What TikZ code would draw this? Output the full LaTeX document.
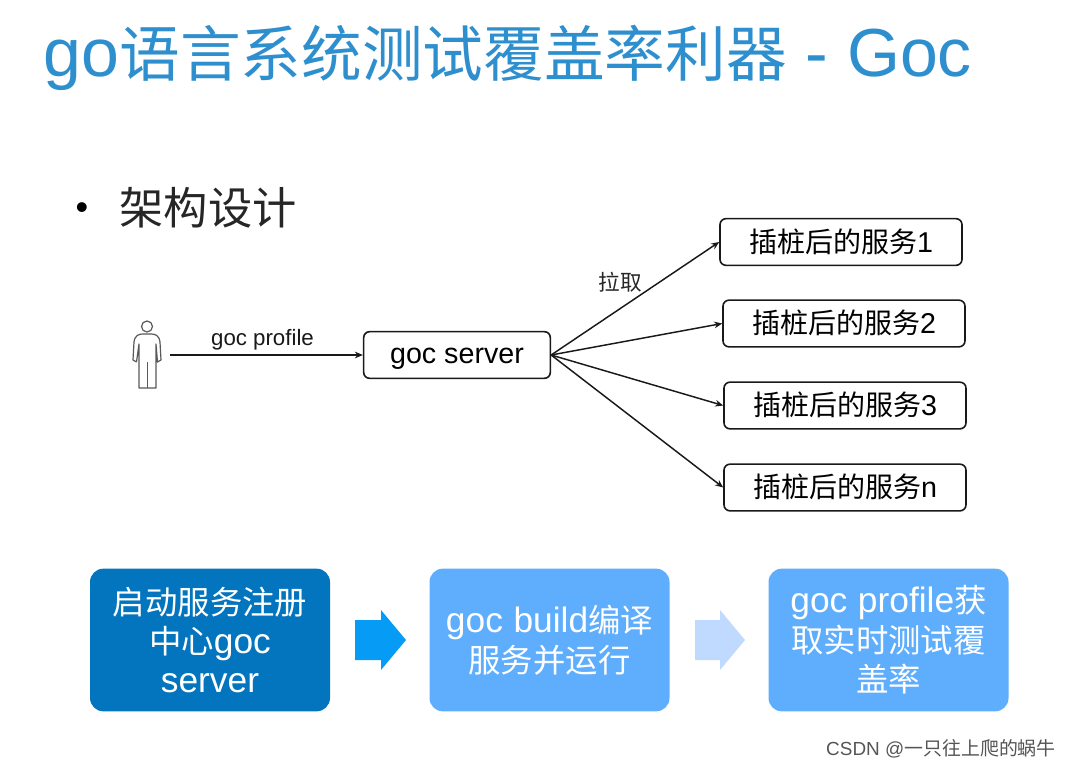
\documentclass[tikz,border=0pt]{standalone}
\usepackage{fontspec}
\setmainfont{Liberation Sans}
\newfontfamily\cjk{Noto Sans CJK SC}
\newcommand{\cj}[2]{{\cjk\fontsize{#1}{#1}\selectfont #2}}
\definecolor{titleblue}{HTML}{2E8FCF}
\definecolor{darkbox}{HTML}{0375BE}
\definecolor{lightbox}{HTML}{5FADFD}
\definecolor{arrowa}{HTML}{069CF5}
\definecolor{arrowb}{HTML}{BFDAFE}
\definecolor{wm}{HTML}{555555}
\usetikzlibrary{arrows.meta}
\tikzset{
  svc/.style={draw=black!90,line width=1.2pt,rounded corners=4.5pt,inner sep=0pt,anchor=center,minimum width=181.5pt,minimum height=35pt,text height=17.5pt,text depth=2.5pt,font=\fontsize{21.5}{23}\selectfont},
  conn/.style={draw=black!90,line width=1.1pt,-{Stealth[length=6pt,width=5pt]}},
  flow/.style={rounded corners=10pt,inner sep=0pt,text width=172pt,align=center,text=white,minimum width=180pt,minimum height=107pt,font=\fontsize{26.5}{29.6}\selectfont},
  lbl/.style={inner sep=0pt,anchor=center}
}
\begin{document}
\begin{tikzpicture}[x=0.75pt,y=-0.75pt]
\useasboundingbox[fill=white] (0,0) rectangle (1072,768);
% title
\node[lbl,text=titleblue,font=\fontsize{51}{54}\selectfont] (title) at (508,58) {go\cj{45.5}{语言系统测试覆盖率利器} - Goc};
% bullet
\node[lbl] (bul) at (82,211) {\fontsize{27}{30}\selectfont •};
\node[lbl,text=black!85] (arch) at (208,208) {\cj{33.2}{架构设计}};
% person
\draw[draw=black!65,line width=0.9pt] (147,326.5) circle (5.5);
\draw[draw=black!65,line width=0.9pt,line join=round] (136.5,362) -- (133,360) -- (134,342) .. controls (135,335) and (139,334) .. (143,334) -- (151,334) .. controls (155,334) and (159,335) .. (160,342) -- (161,360) -- (157.5,362) -- (156,344) -- (156,388) -- (139,388) -- (139,344) -- (136.5,362);
\draw[draw=black!65,line width=0.9pt] (147.5,362) -- (147.5,388);
\coordinate (pers) at (170,355);
% nodes
\node[svc,minimum width=140pt,font=\fontsize{21.5}{24}\selectfont,text height=16.5pt,text depth=3.5pt] (srv) at (457,355) {goc server};
\node[svc] (s1) at (841,242) {\cj{21}{插桩后的服务}1};
\node[svc] (s2) at (844,323.5) {\cj{21}{插桩后的服务}2};
\node[svc] (s3) at (845,405.5) {\cj{21}{插桩后的服务}3};
\node[svc] (sn) at (845,487.5) {\cj{21}{插桩后的服务}n};
\draw[conn] (pers) -- (srv.west);
\node[lbl,text=black!90,font=\fontsize{16.7}{19}\selectfont] (lp) at (262.5,339.5) {goc profile};
\draw[conn] (srv.east) -- (s1.west);
\draw[conn] (srv.east) -- (s2.west);
\draw[conn] (srv.east) -- (s3.west);
\draw[conn] (srv.east) -- (sn.west);
\node[lbl,text=black!85] (la) at (620.5,282) {\cj{16.2}{拉取}};
% flow boxes
\node[flow,fill=darkbox] (b1) at (210,640) {\cj{24.3}{启动服务注册}\\\cj{24.3}{中心}goc\\server};
\node[flow,fill=lightbox] (b2) at (549.5,640) {goc\hspace{.3em}build\cj{24.3}{编译}\\\cj{24.3}{服务并运行}};
\node[flow,fill=lightbox] (b3) at (888.5,640) {goc\hspace{.3em}profile\cj{24.3}{获}\\\cj{24.3}{取实时测试覆}\\\cj{24.3}{盖率}};
\fill[arrowa] (355,620) -- (381,620) -- (381,610) -- (406,640) -- (381,670) -- (381,660) -- (355,660) -- cycle;
\fill[arrowb] (695,620) -- (720,620) -- (720,610) -- (745,640) -- (720,670) -- (720,660) -- (695,660) -- cycle;
\node[lbl,text=wm,font=\fontsize{14.2}{16}\selectfont] (wmk) at (941,749) {CSDN @\cj{14.2}{一只往上爬的蜗牛}};
\end{tikzpicture}
\end{document}
